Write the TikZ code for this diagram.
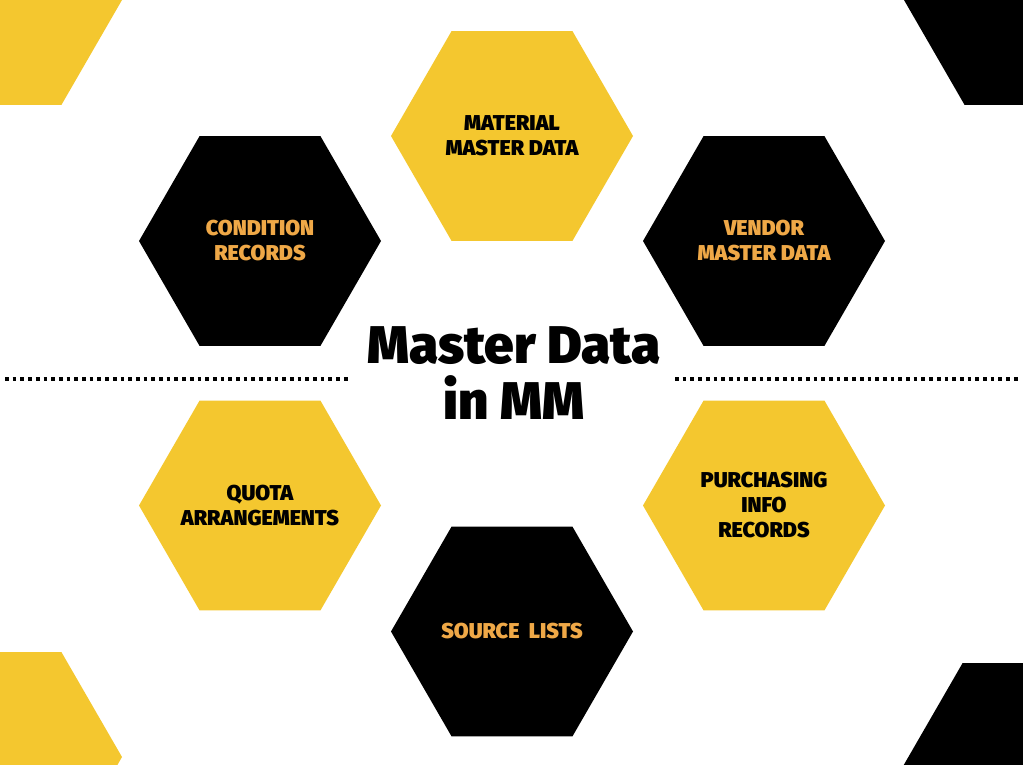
\documentclass[tikz,border=0pt]{standalone}
\usepackage{fontspec}
\setmainfont{Fira Sans}
\newfontfamily\heavyfont{Fira Sans Black}
\usetikzlibrary{shapes.geometric}
\definecolor{hexyellow}{HTML}{F4C72F}
\definecolor{hexorange}{HTML}{EFA847}
\tikzset{
  hexbase/.style={regular polygon, regular polygon sides=6,
    minimum size=242pt, inner sep=0pt, outer sep=0pt},
  hextext/.style={align=center, inner sep=0pt, font=\heavyfont\fontsize{21.5}{25}\selectfont},
  hexyel/.style={hexbase, fill=hexyellow, label={[hextext, text=black]center:#1}},
  hexblk/.style={hexbase, fill=black, label={[hextext, text=hexorange]center:#1}},
  cornerhex/.style={regular polygon, regular polygon sides=6,
    minimum size=242pt, inner sep=0pt, outer sep=0pt},
  dotline/.style={line width=3.7pt, dash pattern=on 3.7pt off 4pt, black},
  titletext/.style={font=\heavyfont\fontsize{53}{56}\selectfont, align=center, text=black}
}
\begin{document}
\begin{tikzpicture}[x=1pt,y=-1pt]
\clip (0,0) rectangle (1023,765);
\fill[white] (0,0) rectangle (1023,765);
% corner hexagons
\node[cornerhex, fill=hexyellow] (ctl) at (1,0) {};
\node[cornerhex, fill=black] (ctr) at (1025,0) {};
\node[cornerhex, fill=hexyellow] (cbl) at (1,757) {};
\node[cornerhex, fill=black] (cbr) at (1023,768) {};
% main hexagons
\node[hexyel={MATERIAL\\MASTER DATA}] (material) at (512,136) {};
\node[hexblk={CONDITION\\RECORDS}] (condition) at (260,241) {};
\node[hexblk={VENDOR\\MASTER DATA}] (vendor) at (764,241) {};
\node[hexyel={QUOTA\\ARRANGEMENTS}] (quota) at (260,505.5) {};
\node[hexyel={PURCHASING\\INFO\\RECORDS}] (purchasing) at (764,505.5) {};
\node[hexblk={SOURCE~ LISTS}] (source) at (512,631.5) {};
% title
\node[titletext] (title) at (514,373) {Master Data\\in MM};
% dotted lines
\coordinate (dl1) at (5,379);
\coordinate (dl2) at (349,379);
\coordinate (dr1) at (675,379);
\coordinate (dr2) at (1018,379);
\draw[dotline] (dl1) -- (dl2);
\draw[dotline] (dr1) -- (dr2);
\end{tikzpicture}
\end{document}
